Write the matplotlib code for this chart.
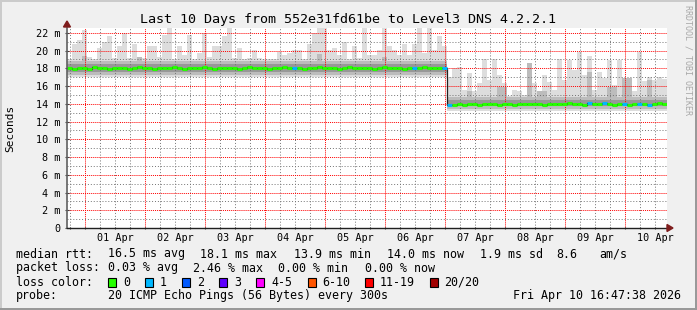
import numpy as np
import pandas as pd
import matplotlib
matplotlib.use('Agg')
import matplotlib.pyplot as plt
import matplotlib.dates as mdates
import matplotlib.transforms as mtransforms
from matplotlib.patches import Rectangle, Polygon
from matplotlib.ticker import MultipleLocator, FixedLocator, FuncFormatter

W, H = 697, 310
MONO = 'DejaVu Sans Mono'

title = 'Last 10 Days from 552e31fd61be to Level3 DNS 4.2.2.1'
start = pd.Timestamp('2026-03-31 16:47:38')
n_bins = 120  # 2 hour bins over 10 days

# smoke, in ms: highest ping of each bin
rtt_max = [19.0, 20.7, 21.2, 22.3, 19.3, 19.0, 20.3, 21.0, 21.6, 19.2,
           20.5, 22.0, 19.2, 20.8, 19.2, 19.2, 20.5, 20.5, 19.3, 21.8,
           22.5, 19.0, 20.5, 19.5, 21.8, 19.0, 19.7, 22.0, 19.3, 20.5,
           20.5, 21.6, 22.5, 19.2, 20.3, 19.0, 19.2, 20.1, 19.2, 19.0,
           19.0, 19.0, 19.9, 19.5, 19.7, 20.1, 20.1, 19.0, 20.8, 22.0,
           22.5, 22.5, 20.1, 20.3, 19.5, 21.0, 19.0, 20.5, 19.2, 22.5,
           19.5, 19.5, 20.1, 22.5, 20.5, 20.1, 19.5, 20.8, 19.5, 20.8,
           22.5, 19.7, 22.5, 20.1, 21.6, 20.5,
           17.0, 18.0, 18.2, 15.6, 17.5, 15.5, 16.3, 19.0, 16.7, 19.0,
           17.2, 16.3, 14.9, 15.6, 15.5, 15.0, 18.6, 16.3, 15.0, 17.3,
           16.5, 15.6, 19.0, 16.7, 18.9, 17.8, 19.8, 17.3, 19.4, 15.6,
           17.6, 16.9, 18.9, 16.1, 18.9, 15.6, 16.3, 15.4, 19.9, 16.6,
           17.0, 16.7, 17.0, 16.8]

rtt_p90 = [18.85, 18.85, 18.85, 19.4, 18.85, 18.85, 18.85, 18.85, 18.85, 18.85,
           18.85, 18.85, 18.85, 18.85, 19.3, 18.85, 18.85, 18.85, 18.85, 18.85,
           18.85, 18.85, 18.85, 18.85, 18.85, 18.85, 18.85, 18.85, 18.85, 18.85,
           18.85, 18.85, 18.85, 18.85, 18.85, 18.85, 18.85, 18.85, 18.85, 18.85,
           18.85, 18.85, 18.85, 18.85, 18.85, 18.85, 18.85, 18.85, 18.85, 18.85,
           19.6, 18.85, 18.85, 18.85, 18.85, 18.85, 18.85, 18.85, 18.85, 18.85,
           18.85, 18.85, 18.85, 19.3, 18.85, 18.85, 18.85, 18.85, 18.85, 18.85,
           18.85, 18.85, 18.85, 18.85, 18.85, 18.85,
           14.8, 14.8, 14.8, 14.8, 15.4, 14.8, 14.8, 14.8, 14.8, 14.8,
           15.9, 15.9, 14.8, 14.8, 14.8, 14.8, 18.6, 14.8, 15.4, 15.4,
           14.8, 14.8, 14.8, 14.8, 14.8, 14.8, 14.8, 14.8, 17.6, 14.8,
           14.8, 14.8, 15.9, 15.9, 14.8, 16.9, 16.9, 14.8, 14.8, 14.8,
           16.7, 14.8, 14.8, 14.8]

rtt_p75 = [18.45] * 76 + [14.4] * 44
rtt_p25 = [17.6] * 76 + [13.7] * 44
rtt_p10 = [17.3] * 76 + [13.45] * 44
rtt_min = [17.0] * 76 + [13.2] * 44

rtt_median = [18.0, 17.9, 18.0, 18.0, 17.9, 18.1, 18.0, 18.0, 17.9, 18.0,
              18.0, 18.0, 17.9, 18.0, 18.1, 18.0, 18.0, 17.9, 18.0, 18.0,
              18.0, 18.1, 18.0, 17.9, 18.0, 18.0, 18.0, 18.1, 18.0, 17.9,
              18.0, 18.0, 18.0, 18.0, 17.9, 18.0, 18.1, 18.0, 18.0, 18.0,
              17.9, 18.0, 18.0, 18.1, 18.0, 18.0, 18.0, 17.9, 18.0, 18.0,
              18.1, 18.0, 18.0, 18.0, 17.9, 18.0, 18.1, 18.0, 18.0, 18.0,
              18.0, 17.9, 18.0, 18.1, 18.0, 18.0, 18.0, 17.9, 18.0, 18.0,
              18.0, 18.1, 18.0, 18.0, 18.0, 18.0,
              13.9, 13.9, 14.0, 13.9, 14.0, 14.0, 13.9, 14.0, 14.0, 14.0,
              13.9, 14.0, 14.0, 13.9, 14.0, 14.0, 14.0, 14.0, 14.0, 13.9,
              14.0, 14.0, 14.0, 14.0, 14.1, 14.0, 14.0, 13.9, 14.1, 14.0,
              14.0, 14.1, 14.0, 13.9, 14.0, 14.0, 13.9, 14.0, 14.0, 14.0,
              13.9, 14.0, 14.1, 14.0]

# bins where 1 of 20 pings was lost (all others: 0)
loss_one_bins = [45, 69, 75, 76, 104, 107, 111, 114, 116]

loss_labels = ['0', '1', '2', '3', '4-5', '6-10', '11-19', '20/20']
loss_colors = ['#26ff00', '#00b8ff', '#0059ff', '#5e00ff', '#ff00ff',
               '#ff5500', '#ff0000', '#a10000']

day_labels = ['01 Apr', '02 Apr', '03 Apr', '04 Apr', '05 Apr',
              '06 Apr', '07 Apr', '08 Apr', '09 Apr', '10 Apr']

legend_rows = [
    ['median rtt:', '16.5 ms avg', '18.1 ms max', '13.9 ms min',
     '14.0 ms now', '1.9 ms sd', '8.6', 'am/s'],
    ['packet loss:', '0.03 % avg', '2.46 % max', '0.00 % min', '0.00 % now'],
    ['loss color:'],
    ['probe:', '20 ICMP Echo Pings (56 Bytes) every 300s'],
]
stamp = 'Fri Apr 10 16:47:38 2026'

# ---------------------------------------------------------------------------
fig = plt.figure(figsize=(W / 100, H / 100), dpi=100, facecolor='#f0f0f0')


def fx(x):
    return x / W


def fy(y):
    return 1 - y / H


ax = fig.add_axes([fx(67), fy(228), 600 / W, 200 / H])
ax.set_facecolor('white')

edges = mdates.date2num(pd.date_range(start, periods=n_bins + 1, freq='2h'))


def ext(a):
    a = np.asarray(a, dtype=float)
    return np.append(a, a[-1])


# smoke layers, light outside to dark near the median
ax.fill_between(edges, ext(rtt_min), ext(rtt_max), step='post', color='#dddddd', lw=0, zorder=1)
ax.fill_between(edges, ext(rtt_p10), ext(rtt_p90), step='post', color='#bcbcbc', lw=0, zorder=1)
ax.fill_between(edges, ext(rtt_p25), ext(rtt_p75), step='post', color='#989898', lw=0, zorder=1)

# median: thin dark step line, then loss coloured segments
ax.step(edges, ext(rtt_median), where='post', color='#202020', lw=0.9, zorder=3)
loss = np.zeros(n_bins, dtype=int)
loss[loss_one_bins] = 1
ax.hlines(rtt_median, edges[:-1], edges[1:], colors=[loss_colors[l] for l in loss],
          lw=2.2, zorder=4)

ax.set_xlim(edges[0], edges[-1])
ax.set_ylim(0, 22.55)

ax.xaxis.set_major_locator(mdates.DayLocator())
ax.xaxis.set_minor_locator(mdates.HourLocator(byhour=[6, 12, 18]))
ax.yaxis.set_major_locator(MultipleLocator(2))
ax.yaxis.set_minor_locator(FixedLocator(np.arange(1, 23, 2)))
ax.yaxis.set_major_formatter(FuncFormatter(lambda v, p: '0' if v == 0 else '%d m' % v))

ax.grid(True, which='major', color=(1, 0, 0, 0.24), ls=(0, (1, 1)), lw=0.7, zorder=5)
ax.grid(True, which='minor', color=(0.45, 0.45, 0.45, 0.26), ls=(0, (1, 2)), lw=0.7, zorder=5)
ax.set_axisbelow(False)

ax.tick_params(axis='x', which='both', labelbottom=False, length=2, direction='inout',
               color='#404040', width=0.8)
ax.tick_params(axis='y', which='major', length=3, direction='inout', color='#404040',
               width=0.8, pad=3.5, labelsize=7.3)
ax.tick_params(axis='y', which='minor', length=0)
for lab in ax.get_yticklabels():
    lab.set_family(MONO)

for s in ('top', 'right'):
    ax.spines[s].set_visible(False)
ax.spines['left'].set_color('#606060')
ax.spines['left'].set_linewidth(1.2)
ax.spines['bottom'].set_color('#202020')
ax.spines['bottom'].set_linewidth(1.0)
ax.spines['left'].set_zorder(6)
ax.spines['bottom'].set_zorder(6)

# day labels at noon
trans = mtransforms.blended_transform_factory(ax.transData, ax.transAxes)
for i, lab in enumerate(day_labels):
    xpos = mdates.date2num(pd.Timestamp('2026-04-01 12:00') + pd.Timedelta(days=i))
    ax.text(xpos, -0.05, lab, transform=trans, ha='center', va='center',
            fontsize=7.3, family=MONO)

# axis arrows
fig.add_artist(Polygon([(fx(63.5), fy(27)), (fx(70.5), fy(27)), (fx(67), fy(21))],
                       closed=True, color='#7f1d1d', transform=fig.transFigure))
fig.add_artist(Polygon([(fx(667), fy(224.5)), (fx(667), fy(231.5)), (fx(673), fy(228))],
                       closed=True, color='#7f1d1d', transform=fig.transFigure))

fig.text(fx(348), fy(19), title, ha='center', va='center', fontsize=9.6, family=MONO)
fig.text(fx(10), fy(128), 'Seconds', rotation=90, ha='center', va='center',
         fontsize=8, family=MONO)
fig.text(fx(688), fy(60), 'RRDTOOL / TOBI OETIKER', rotation=270, ha='center',
         va='center', fontsize=6, family=MONO, color='#a8a8a8')

# legend block
LEG = 8.4
row_y = [254, 268, 282, 296]
row_x = [
    [16, 107.5, 200.5, 293.5, 387, 479.5, 556, 599],
    [16, 107.5, 193, 278.5, 365],
    [16],
    [16, 107.5],
]
for texts, xs, y in zip(legend_rows, row_x, row_y):
    for t, x in zip(texts, xs):
        fig.text(fx(x), fy(y), t, ha='left', va='center', fontsize=LEG, family=MONO)

box_x = [107.5, 145, 182, 219, 256, 308, 365, 430]
lab_x = [123, 160, 197, 234, 271, 322.5, 379.5, 444]
for lab, col, bx, lx in zip(loss_labels, loss_colors, box_x, lab_x):
    fig.add_artist(Rectangle((fx(bx), fy(286.5)), 8 / W, 9 / H, facecolor=col,
                             edgecolor='black', lw=0.8, transform=fig.transFigure))
    fig.text(fx(lx), fy(282), lab, ha='left', va='center', fontsize=LEG, family=MONO)

fig.text(fx(681), fy(296), stamp, ha='right', va='center', fontsize=LEG, family=MONO)

# frame shading
fig.add_artist(Rectangle((0, fy(2)), 1, 2 / H, color='#cbcbcb', transform=fig.transFigure, lw=0))
fig.add_artist(Rectangle((0, 0), 2 / W, 1, color='#cbcbcb', transform=fig.transFigure, lw=0))
fig.add_artist(Rectangle((0, 0), 1, 2 / H, color='#999999', transform=fig.transFigure, lw=0))
fig.add_artist(Rectangle((fx(695), 0), 2 / W, 1, color='#999999', transform=fig.transFigure, lw=0))

fig.savefig('out.png', dpi=100, facecolor=fig.get_facecolor())
